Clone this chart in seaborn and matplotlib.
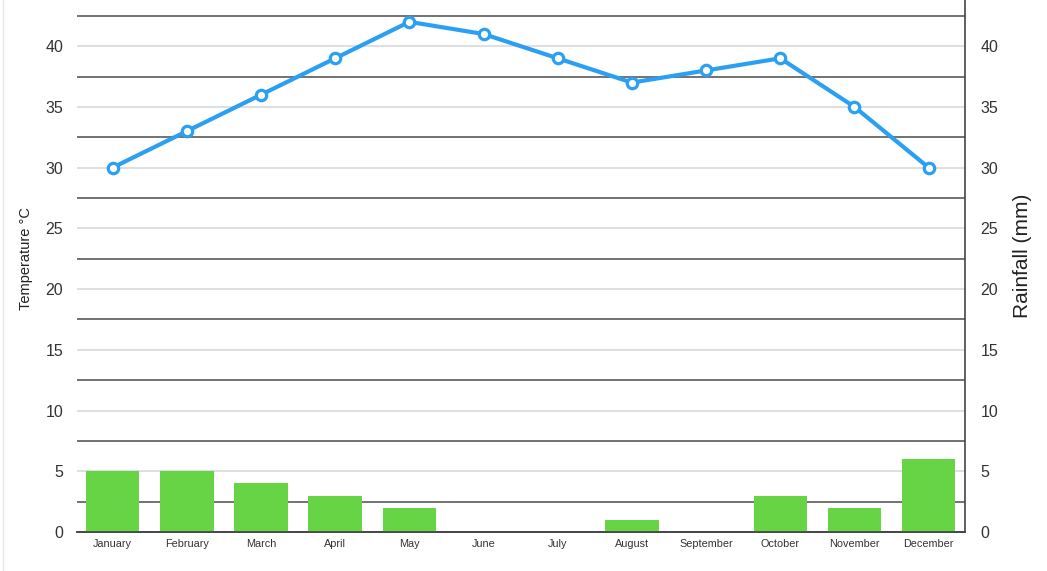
import numpy as np
import pandas as pd
import matplotlib
matplotlib.use("Agg")
import matplotlib.pyplot as plt
import seaborn as sns
from matplotlib.ticker import FixedLocator

months = ["January", "February", "March", "April", "May", "June", "July",
          "August", "September", "October", "November", "December"]
temperature = [30, 33, 36, 39, 42, 41, 39, 37, 38, 39, 35, 30]
rainfall = [5, 5, 4, 3, 2, 0, 0, 1, 0, 3, 2, 6]
y_ticks = [0, 5, 10, 15, 20, 25, 30, 35, 40]

sns.set_theme(style="white")
plt.rcParams['font.family'] = ['Liberation Sans', 'DejaVu Sans']

df = pd.DataFrame({"month": months, "temperature": temperature, "rainfall": rainfall})

fig = plt.figure(figsize=(10.47, 5.71), dpi=100)
ax = fig.add_axes([77/1047, 39/571, (965-77)/1047, 1 - 39/571])
ax2 = ax.twinx()

ymax = 43.8
sns.barplot(data=df, x="month", y="rainfall", ax=ax2, color="#66d444",
            saturation=1, width=0.72, order=months)
for p in ax2.patches:
    p.set_edgecolor("none")

sns.lineplot(data=df, x="month", y="temperature", ax=ax, sort=False,
             color="#2ba0f2", linewidth=3, marker="o", markersize=7.5,
             markerfacecolor="white", markeredgecolor="#2ba0f2",
             markeredgewidth=2.3, zorder=5)

for a in (ax, ax2):
    a.set_ylim(0, ymax)
    a.set_xlim(-0.48, 11.49)

ax.yaxis.set_major_locator(FixedLocator(y_ticks))
ax.yaxis.set_minor_locator(FixedLocator(np.arange(2.5, 43, 5)))
ax.grid(True, which="major", axis="y", color="#d9d9d9", linewidth=1.2)
ax.grid(True, which="minor", axis="y", color="#5a5a5a", linewidth=1.2)
ax.grid(False, axis="x")
ax.set_axisbelow(True)

ax2.yaxis.set_major_locator(FixedLocator(y_ticks))
ax2.grid(False)

ax.tick_params(axis="y", which="both", length=0, pad=10, labelsize=11.5, labelcolor="#333333")
ax.tick_params(axis="x", length=0, pad=5, labelsize=7.8, labelcolor="#333333")
ax2.tick_params(axis="y", length=0, pad=11, labelsize=11.5, labelcolor="#333333")

for a in (ax, ax2):
    for s in ("top", "left"):
        a.spines[s].set_visible(False)
    a.spines["bottom"].set_color("#444444")
    a.spines["bottom"].set_linewidth(1.2)
    a.spines["right"].set_visible(False)
ax2.spines["right"].set_visible(True)
ax2.spines["right"].set_color("#444444")
ax2.spines["right"].set_linewidth(1.2)

ax.set_xlabel("")
ax.set_ylabel("Temperature °C", fontsize=10.5, color="#222222")
ax.yaxis.set_label_coords(-44/888, (532-259)/532)
ax2.set_ylabel("Rainfall (mm)", fontsize=15, color="#222222")
ax2.yaxis.set_label_coords(1 + 48/888, (532-256)/532)

fig.add_artist(plt.Line2D([3/1047, 3/1047], [0, 1], color="#e6e6e6", linewidth=1))

fig.savefig("out.png", dpi=100)
